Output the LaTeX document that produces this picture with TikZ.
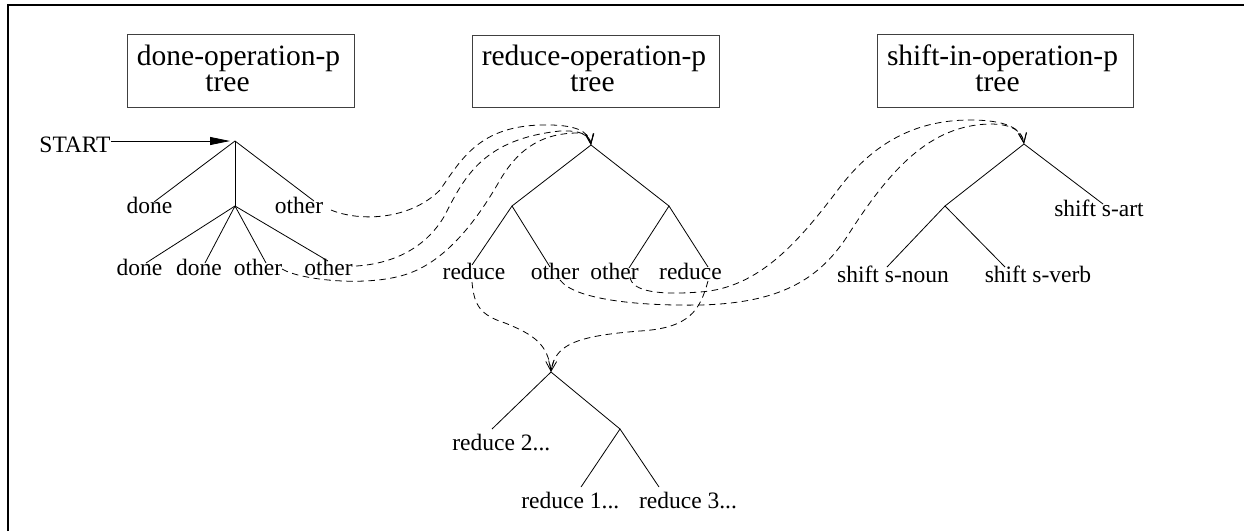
\documentclass[tikz,border=0pt]{standalone}
\usepackage{fontspec}
\setmainfont{Liberation Serif}
\usetikzlibrary{arrows.meta}
\tikzset{
  lbl/.style={font=\fontsize{23.5}{26}\selectfont, inner sep=0pt, anchor=base},
  ttl/.style={font=\fontsize{29.5}{25.5}\selectfont, inner sep=0pt, align=center, anchor=center},
  titlebox/.style={draw=black!75, line width=0.9pt, inner sep=0pt},
  edge/.style={line width=0.8pt},
  link/.style={line width=0.8pt, dash pattern=on 6.5pt off 4.5pt,
    -{Straight Barb[length=10pt,width=8pt,line width=0.8pt]}},
  startarrow/.style={line width=0.8pt, -{Triangle[length=20pt,width=8pt]}}
}
\begin{document}
\begin{tikzpicture}[x=1pt,y=-1pt]
\useasboundingbox (0,0) rectangle (1244,531);
% frame (only left and top visible)
\draw[line width=1.2pt] (8,531) -- (8,5) -- (1244,5);

% title boxes
\node[titlebox, minimum width=227pt, minimum height=73pt] (box1) at (240.5,70.5) {};
\node[titlebox, minimum width=247pt, minimum height=72pt] (box2) at (595.5,71) {};
\node[titlebox, minimum width=256pt, minimum height=73pt] (box3) at (1005,70.5) {};
\node[ttl] (t1) at (238.5,68.5) {done-operation-p\\tree\hspace*{22pt}};
\node[ttl] (t2) at (594,68.5) {reduce-operation-p\\tree\hspace*{3pt}};
\node[ttl] (t3) at (1002.5,68.5) {shift-in-operation-p\\tree\hspace*{10pt}};

% ---------- tree 1 ----------
\coordinate (r1) at (235,141);
\coordinate (s1) at (235,206);
\coordinate (e1a) at (154,202);
\coordinate (e1b) at (314,201);
\coordinate (e2a) at (146,263);
\coordinate (e2b) at (205,263);
\coordinate (e2c) at (266,263);
\coordinate (e2d) at (328,261);
\node[lbl] (start) at (75,152) {START};
\node[lbl] (d1) at (149.5,213) {done};
\node[lbl] (o1) at (299,213) {other};
\node[lbl] (d2) at (139.5,275) {done};
\node[lbl] (d3) at (199,275) {done};
\node[lbl] (o2) at (258,275) {other};
\node[lbl] (o3) at (328.5,275) {other};
\draw[startarrow, shorten >=5pt] (start.east |- r1) -- (r1);
\draw[edge] (e1a) -- (r1) -- (e1b);
\draw[edge] (r1) -- (s1);
\draw[edge] (s1) -- (e2a);
\draw[edge] (s1) -- (e2b);
\draw[edge] (s1) -- (e2c);
\draw[edge] (s1) -- (e2d);

% ---------- tree 2 ----------
\coordinate (r2) at (591,145);
\coordinate (l2) at (512,206);
\coordinate (rr2) at (669,206);
\coordinate (f2a) at (472,265);
\coordinate (f2b) at (550,267);
\coordinate (f2c) at (629,268);
\coordinate (f2d) at (708,267);
\node[lbl] (red1) at (474,279) {reduce};
\node[lbl] (oth1) at (555,279) {other};
\node[lbl] (oth2) at (614.5,279) {other};
\node[lbl] (red2) at (690.5,279) {reduce};
\draw[edge] (l2) -- (r2) -- (rr2);
\draw[edge] (f2a) -- (l2) -- (f2b);
\draw[edge] (f2c) -- (rr2) -- (f2d);

% ---------- tree 3 ----------
\coordinate (r3) at (1024,144);
\coordinate (l3) at (945,206);
\coordinate (g3a) at (1103,204);
\coordinate (g3b) at (887,267);
\coordinate (g3c) at (1005,267);
\node[lbl] (sart) at (1099,216.7) {shift s-art};
\node[lbl] (snoun) at (893,282.7) {shift s-noun};
\node[lbl] (sverb) at (1038,282.7) {shift s-verb};
\draw[edge] (l3) -- (r3) -- (g3a);
\draw[edge] (g3b) -- (l3) -- (g3c);

% ---------- tree 4 ----------
\coordinate (r4) at (551,372);
\coordinate (rc4) at (620,429);
\coordinate (h4a) at (492,429);
\coordinate (h4b) at (581,487);
\coordinate (h4c) at (659,487);
\node[lbl] (rd2) at (501.3,450) {reduce 2...};
\node[lbl] (rd1) at (570.3,508.3) {reduce 1...};
\node[lbl] (rd3) at (688,508.3) {reduce 3...};
\draw[edge] (h4a) -- (r4) -- (rc4);
\draw[edge] (h4b) -- (rc4) -- (h4c);

% ---------- dashed links ----------
\coordinate (cA) at (331,210);
\coordinate (cB) at (356,266);
\coordinate (cC) at (282,269);
\coordinate (cD) at (472,282);
\coordinate (cE) at (708,281);
\coordinate (cF) at (560,280);
\coordinate (cG) at (630,277);

\draw[link] (cA) .. controls (360,222) and (410,220) .. (440,190)
  .. controls (462,158) and (480,127) .. (540,125)
  .. controls (575,124) and (589,131) .. (r2);
\draw[link] (cB) .. controls (390,264) and (425,250) .. (445,215)
  .. controls (465,175) and (485,139) .. (560,131)
  .. controls (580,130) and (590,135) .. (r2);
\draw[link] (cC) .. controls (300,280) and (370,288) .. (410,273)
  .. controls (450,258) and (480,215) .. (500,180)
  .. controls (520,146) and (545,133) .. (578,133)
  .. controls (586,134) and (590,138) .. (r2);
\draw[link] (cD) .. controls (474,305) and (480,315) .. (505,323)
  .. controls (535,335) and (548,345) .. (r4);
\draw[link] (cE) .. controls (700,310) and (690,328) .. (640,331)
  .. controls (575,336) and (555,345) .. (r4);
\draw[link] (cF) .. controls (575,300) and (640,306) .. (700,305)
  .. controls (780,303) and (820,280) .. (850,232)
  .. controls (890,170) and (930,125) .. (990,124)
  .. controls (1012,124) and (1022,131) .. (r3);
\draw[link] (cG) .. controls (632,292) and (660,295) .. (700,292)
  .. controls (760,288) and (800,240) .. (840,187)
  .. controls (870,148) and (910,120) .. (970,120)
  .. controls (1005,120) and (1022,128) .. (r3);
\end{tikzpicture}
\end{document}
